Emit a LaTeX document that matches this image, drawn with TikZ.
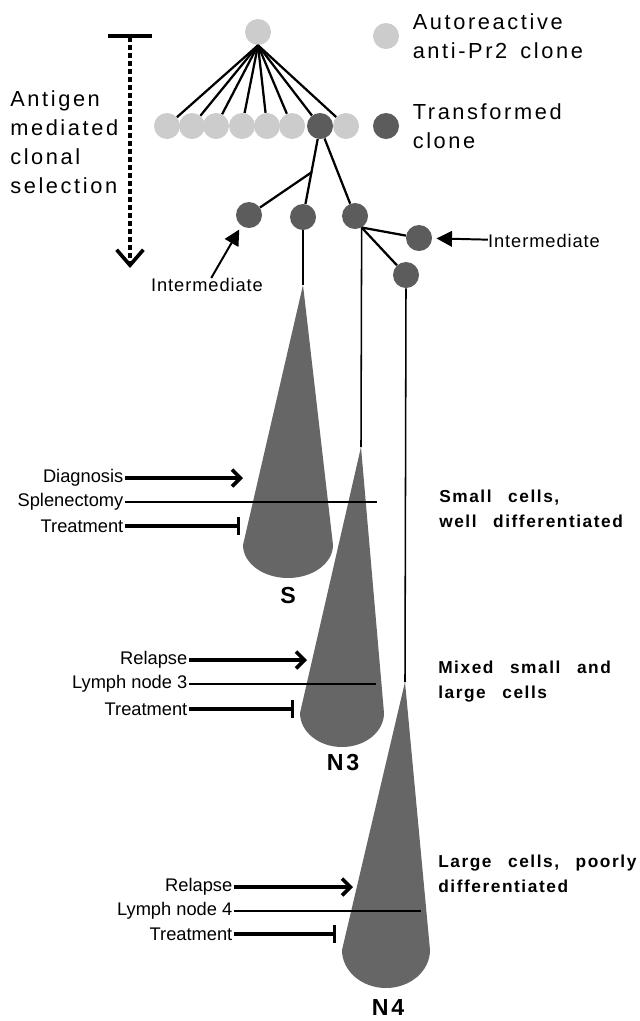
\documentclass[tikz,border=0pt]{standalone}
\usepackage{fontspec}
\setmainfont{Liberation Sans}
\newfontfamily\widefont[LetterSpace=12]{Liberation Sans}
\newfontfamily\notefont[LetterSpace=5]{Liberation Sans}
\newfontfamily\stagefont[LetterSpace=9,WordSpace=2.6]{Liberation Sans}
\usetikzlibrary{arrows.meta,positioning}
\definecolor{lightclone}{gray}{0.8}
\definecolor{darkclone}{gray}{0.36}
\definecolor{conegray}{gray}{0.4}

\begin{document}
\begin{tikzpicture}[
  x=0.025cm, y=-0.025cm,
  clone/.style={circle, minimum size=0.65cm, inner sep=0pt},
  autoclone/.style={clone, fill=lightclone},
  transclone/.style={clone, fill=darkclone},
  link/.style={line width=1.6pt},
  stem/.style={line width=1.1pt},
  cone/.style={fill=conegray},
  bigtext/.style={inner sep=0pt, align=left, font=\widefont\fontsize{15.5}{20.5}\selectfont},
  note/.style={inner sep=0pt, font=\notefont\fontsize{13}{15}\selectfont},
  event/.style={anchor=east, inner sep=1pt, font=\fontsize{13}{15}\selectfont},
  stage/.style={anchor=west, inner sep=0pt, align=left, font=\stagefont\bfseries\fontsize{12.3}{17.7}\selectfont},
  conelbl/.style={inner sep=0pt, font=\widefont\bfseries\fontsize{16.5}{18}\selectfont},
  hit/.style={line width=2.6pt, -{Straight Barb[length=6pt, width=12pt]}},
  cut/.style={line width=1.8pt},
  block/.style={line width=2.2pt, -{Bar[width=13pt]}},
  point/.style={line width=1.4pt, -{Triangle[length=11pt, width=11pt]}, shorten >=3pt},
  select/.style={line width=2.6pt, dash pattern=on 3.5pt off 2.2pt,
    {Bar[width=31pt]}-{Straight Barb[length=11pt, width=19pt]}}
]
\useasboundingbox (0,0) rectangle (639,1021);

% clones
\node[autoclone] (top) at (258,32) {};
\foreach \x [count=\i] in {167,192,216,242,267,292}
  \node[autoclone] (c\i) at (\x,126) {};
\node[transclone] (c7) at (320,126) {};
\node[autoclone] (c8) at (346,126) {};
\foreach \i in {1,...,8}
  \draw[link] (top.south) -- (c\i);

\node[transclone] (i1) at (249,215) {};
\node[transclone] (i2) at (303,217) {};
\node[transclone] (i3) at (355,216) {};
\node[transclone] (i4) at (419,238) {};
\node[transclone] (i5) at (406,275) {};
\coordinate (fork) at (312,172);
\draw[link] (c7.-100) -- (i2);
\draw[link] (fork) -- (i1);
\draw[link] (c7.-70) -- (i3);
\draw[link] (i3.-60) -- (i4);
\draw[link] (i3.-60) -- (i5);

% legend
\node[autoclone] (keyA) at (386,36) {};
\node[bigtext, right=0.33cm of keyA] (keyAtxt) {Autoreactive\\anti-Pr2\hspace{0.6em}clone};
\node[transclone] (keyT) at (386,126) {};
\node[bigtext, right=0.33cm of keyT] (keyTtxt) {Transformed\\clone};

% selection
\node[bigtext, anchor=west] (selLbl) at (10,142) {Antigen\\mediated\\clonal\\selection};
\coordinate (selTop) at (130,34);
\coordinate (selBot) at (130,268);
\draw[select] (selTop) -- (selBot);

\node[note] (intR) at (544,241) {Intermediate};
\draw[point] (intR) -- (i4);
\node[note] (intL) at (207,285) {Intermediate};
\draw[point] ([xshift=3pt]intL.north) -- (i1.235);

% cones
\coordinate (apexS) at (303,285);
\coordinate (apexN3) at (361,447);
\coordinate (apexN4) at (405,682);
\foreach \c/\cx/\ry/\hw/\dp in {S/288/545/45/33, N3/342/713/42/34, N4/386/950/44/38}
  \fill[cone] (apex\c) -- (\cx-\hw,\ry)
    arc[start angle=180, end angle=360, x radius=\hw*0.025cm, y radius=\dp*0.025cm] -- cycle;
\draw[stem] (i2.south) -- (apexS);
\draw[stem] (i3.-60) -- (apexN3);
\draw[stem] (i5.south) -- (apexN4);

\node[conelbl] (lblS) at (288,596) {S};
\node[conelbl] (lblN3) at (343,763) {N3};
\node[conelbl] (lblN4) at (388,1008) {N4};

% events
\node[event] (diag) at (125,478) {Diagnosis};
\node[event] (splen) at (125,502) {Splenectomy};
\node[event] (treatS) at (125,526) {Treatment};
\draw[hit] (diag.east) -- ++(118,0);
\draw[cut] (splen.east) -- ++(252,0);
\draw[block] (treatS.east) -- ++(115,0);

\node[event] (relN3) at (189,660) {Relapse};
\node[event] (lymN3) at (189,684) {Lymph node 3};
\node[event] (treatN3) at (189,709) {Treatment};
\draw[hit] (relN3.east) -- ++(118,0);
\draw[cut] (lymN3.east) -- ++(187,0);
\draw[block] (treatN3.east) -- ++(105,0);

\node[event] (relN4) at (234,887) {Relapse};
\node[event] (lymN4) at (234,911) {Lymph node 4};
\node[event] (treatN4) at (234,934) {Treatment};
\draw[hit] (relN4.east) -- ++(119,0);
\draw[cut] (lymN4.east) -- ++(187,0);
\draw[block] (treatN4.east) -- ++(102,0);

% stages
\node[stage] (stS) at (439,509) {Small cells,\\well differentiated};
\node[stage] (stN3) at (438,682) {Mixed small and\\large cells};
\node[stage] (stN4) at (438,874) {Large cells, poorly\\differentiated};
\end{tikzpicture}
\end{document}
